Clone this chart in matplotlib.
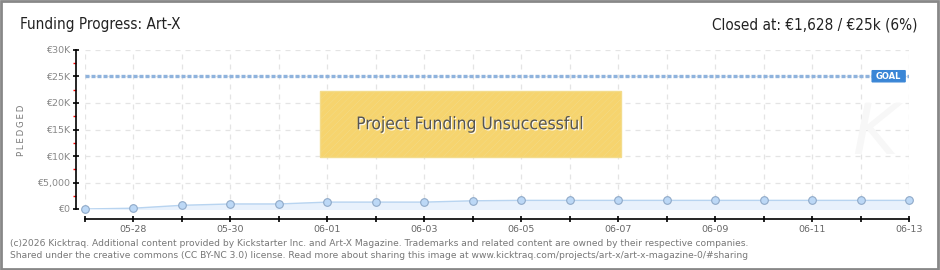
import numpy as np
import matplotlib.pyplot as plt
from matplotlib.patches import Rectangle, FancyBboxPatch
import matplotlib.patheffects as pe

# daily pledged totals (EUR), 05-27 .. 06-13
days = ['05-27', '05-28', '05-29', '05-30', '05-31', '06-01', '06-02', '06-03', '06-04',
        '06-05', '06-06', '06-07', '06-08', '06-09', '06-10', '06-11', '06-12', '06-13']
pledged = [0, 150, 700, 950, 950, 1300, 1300, 1300, 1550,
           1628, 1628, 1628, 1628, 1628, 1628, 1628, 1628, 1628]
goal = 25000
ytick_vals = [0, 5000, 10000, 15000, 20000, 25000, 30000]
ytick_labels = ['€0', '€5,000', '€10K', '€15K', '€20K', '€25K', '€30K']

head_font = dict(family=['DejaVu Sans'], stretch='condensed')

fig = plt.figure(figsize=(9.4, 2.7), dpi=100)
fig.patch.set_facecolor('white')
# outer border
fig.add_artist(Rectangle((0.001, 0.002), 0.997, 0.995, transform=fig.transFigure,
                         fill=False, edgecolor='#888888', linewidth=2))

ax = fig.add_axes([85 / 940, 61 / 270, 824 / 940, 159 / 270])
x = np.arange(len(days))

ax.set_xlim(0, len(days) - 1)
ax.set_ylim(0, 30000)

# grid
for xi in x:
    ax.axvline(xi, color='#e4e4e4', linestyle=(0, (4, 4)), linewidth=0.9, zorder=0)
for yv in ytick_vals:
    ax.axhline(yv, color='#e4e4e4', linestyle=(0, (4, 4)), linewidth=0.9, zorder=0)

# watermark
ax.text(16.3, 14000, 'K', fontsize=50, color='#f7f7f7', style='italic',
        ha='center', va='center', zorder=0)

# data
ax.fill_between(x, pledged, 0, color='#e8f1fc', zorder=1)
ax.plot(x, pledged, color='#b8d4f0', linewidth=1, zorder=2)
ax.plot(x, pledged, 'o', markersize=5.5, markerfacecolor='#bcd8f6',
        markeredgecolor='#8fa9c8', markeredgewidth=0.8, clip_on=False, zorder=3)

# goal line
ax.axhline(goal, color='#8fb3dd', linestyle=(0, (1.2, 0.6)), linewidth=2.4, zorder=2)
ax.add_patch(FancyBboxPatch((16.24, goal - 1000), 0.68, 2100, boxstyle='round,pad=0,rounding_size=0.05',
                            facecolor='#3a86d6', edgecolor='#3a86d6', zorder=4, clip_on=False))
ax.text(16.58, goal, 'GOAL', color='white', fontsize=6, ha='center', va='center',
        fontweight='bold', zorder=5)

# unsuccessful banner
ax.add_patch(Rectangle((4.85, 9800), 6.2, 12400, facecolor='#f6d46e', edgecolor='#f3dc8c',
                       hatch='/////', linewidth=1, zorder=4))
ax.patches[-1].set_hatch_linewidth(0.3)
ax.text(7.95, 16000, 'Project Funding Unsuccessful', fontsize=12.5, color='#555555',
        ha='center', va='center', zorder=5, **head_font,
        path_effects=[pe.withSimplePatchShadow(offset=(0.8, -0.8), shadow_rgbFace='white', alpha=0.9)])

# axes / ticks
for s in ['top', 'right']:
    ax.spines[s].set_visible(False)
ax.spines['left'].set_position(('outward', 6.5))
ax.spines['bottom'].set_position(('outward', 7.2))
ax.spines['left'].set_linewidth(1.2)
ax.spines['bottom'].set_linewidth(1.2)

ax.set_yticks(ytick_vals)
ax.set_yticklabels(ytick_labels)
ax.set_yticks([2500, 7500, 12500, 17500, 22500, 27500], minor=True)
ax.tick_params(axis='y', which='major', direction='inout', length=4, width=1.2,
               labelsize=6.8, labelcolor='#888888', pad=2)
ax.tick_params(axis='y', which='minor', direction='out', length=2, width=1, color='red')

ax.set_xticks(x)
ax.set_xticklabels([d if i % 2 == 1 else '' for i, d in enumerate(days)])
ax.tick_params(axis='x', direction='inout', length=4, width=1.2,
               labelsize=6.8, labelcolor='#666666', pad=2)

fig.text(22 / 940, 1 - 130 / 270, '\u2009'.join('PLEDGED'), fontsize=6.2, color='#777777',
         rotation=90, ha='center', va='center')

# header
fig.text(20 / 940, 1 - 25 / 270, 'Funding Progress: Art-X', fontsize=11, color='#222222',
         va='center', ha='left', **head_font)
fig.text(918 / 940, 1 - 25 / 270, 'Closed at: €1,628 / €25k (6%)', fontsize=11,
         color='#222222', va='center', ha='right', **head_font)

# footer
fig.text(10 / 940, 1 - 243 / 270,
         '(c)2026 Kicktraq. Additional content provided by Kickstarter Inc. and Art-X Magazine. '
         'Trademarks and related content are owned by their respective companies.',
         fontsize=6.6, color='#777777', va='center', ha='left')
fig.text(10 / 940, 1 - 256 / 270,
         'Shared under the creative commons (CC BY-NC 3.0) license. Read more about sharing this image at '
         'www.kicktraq.com/projects/art-x/art-x-magazine-0/#sharing',
         fontsize=6.6, color='#777777', va='center', ha='left')

fig.savefig('out.png', dpi=100)
